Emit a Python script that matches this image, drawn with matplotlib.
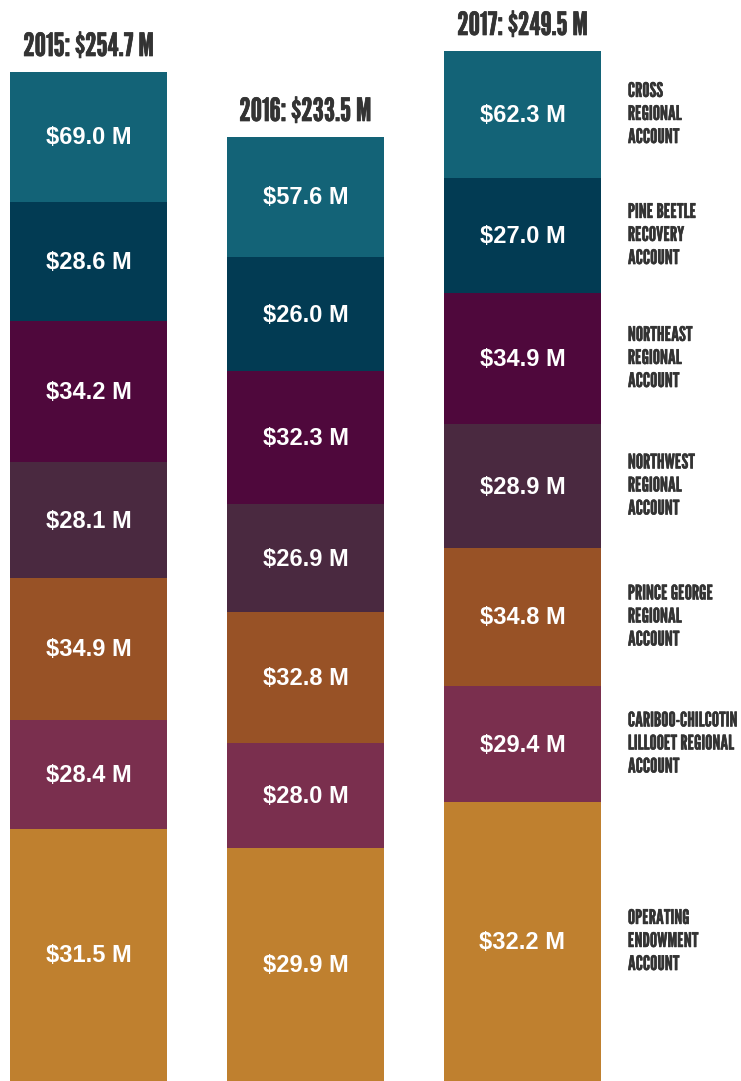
import numpy as np
import matplotlib.pyplot as plt
import matplotlib.patheffects as pe

years = ['2015', '2016', '2017']
totals = ['$254.7 M', '$233.5 M', '$249.5 M']

# stack order, bottom to top
accounts = ['OPERATING\nENDOWMENT\nACCOUNT',
            'CARIBOO-CHILCOTIN\nLILLOOET REGIONAL\nACCOUNT',
            'PRINCE GEORGE\nREGIONAL\nACCOUNT',
            'NORTHWEST\nREGIONAL\nACCOUNT',
            'NORTHEAST\nREGIONAL\nACCOUNT',
            'PINE BEETLE\nRECOVERY\nACCOUNT',
            'CROSS\nREGIONAL\nACCOUNT']
colors = ['#bf802f', '#7a2f4e', '#985226', '#4a2940', '#4f083c', '#023b53', '#136377']

# account balances ($M)
amounts_2015 = [31.5, 28.4, 34.9, 28.1, 34.2, 28.6, 69.0]
amounts_2016 = [29.9, 28.0, 32.8, 26.9, 32.3, 26.0, 57.6]
amounts_2017 = [32.2, 29.4, 34.8, 28.9, 34.9, 27.0, 62.3]

# the infographic does not draw blocks to scale: block heights as drawn
heights_2015 = [252, 109, 142, 116, 141, 119, 130]
heights_2016 = [233, 105, 131, 108, 133, 114, 120]
heights_2017 = [279, 116, 138, 124, 131, 115, 127]

amounts = [amounts_2015, amounts_2016, amounts_2017]
heights = [heights_2015, heights_2016, heights_2017]

title_font = ['League Gothic', 'DejaVu Sans']
label_font = ['Liberation Sans', 'DejaVu Sans']
dark = '#333333'

fig = plt.figure(figsize=(7.41, 10.81), dpi=100)
ax = fig.add_axes([0, 0, 1, 1])
ax.axis('off')

x = np.arange(len(years))
width = 0.7235

for i in range(len(years)):
    h = np.array(heights[i])
    bottoms = np.concatenate([[0], np.cumsum(h)[:-1]])
    ax.bar(x[i], h, bottom=bottoms, width=width, color=colors, linewidth=0)
    for j in range(len(h)):
        ax.text(x[i], bottoms[j] + h[j] / 2 - 1, '$%.1f M' % amounts[i][j],
                ha='center', va='center', color='white', fontsize=17,
                fontweight='bold', family=label_font)
    ax.text(x[i], h.sum() + 16, years[i] + ': ' + totals[i],
            ha='center', va='baseline', color=dark, fontsize=23,
            family=title_font,
            path_effects=[pe.withStroke(linewidth=0.5, foreground=dark)])

# labels at the right, next to the 2017 blocks
h = np.array(heights[-1])
bottoms = np.concatenate([[0], np.cumsum(h)[:-1]])
for j in range(len(accounts)):
    ax.text(x[-1] + width / 2 + 0.124, bottoms[j] + h[j] / 2, accounts[j],
            ha='left', va='center', color=dark, fontsize=14.5,
            family=title_font, linespacing=1.27,
            path_effects=[pe.withStroke(linewidth=0.35, foreground=dark)])

ax.set_xlim(-0.408, 3.007)
ax.set_ylim(0, 1081)

plt.savefig('out.png', dpi=100)
